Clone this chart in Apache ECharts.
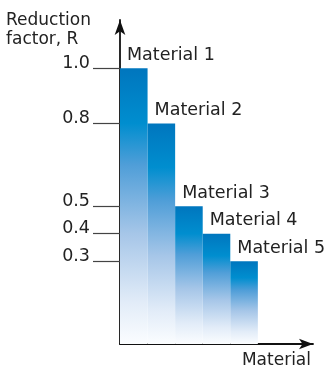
<!DOCTYPE html>
<html>
<head>
<meta charset="utf-8">
<script src="https://cdn.jsdelivr.net/npm/echarts@6/dist/echarts.min.js"></script>
<style>
  html, body { margin: 0; padding: 0; background: #fff; }
  #chart { width: 331px; height: 366px; }
</style>
</head>
<body>
<div id="chart"></div>
<script>
const materials = ['Material 1', 'Material 2', 'Material 3', 'Material 4', 'Material 5'];
const reduction = [1.0, 0.8, 0.5, 0.4, 0.3];
const yTicks = [0.3, 0.4, 0.5, 0.8, 1.0];

const FONT = '"DejaVu Sans", Verdana, sans-serif';

const chart = echarts.init(document.getElementById('chart'));

// blue at the top of each bar, fading to white at the base
const barFill = new echarts.graphic.LinearGradient(0, 0, 0, 1, [
  { offset: 0, color: '#0076be' },
  { offset: 0.2, color: '#008ecf' },
  { offset: 0.35, color: '#4f9ed8' },
  { offset: 0.6, color: '#a6c6e8' },
  { offset: 0.85, color: '#e2ecf8' },
  { offset: 1, color: '#fbfdff' },
]);

const option = {
  animation: false,
  title: {
    text: 'Reduction\nfactor, R',
    left: 6,
    top: 11,
    padding: 0,
    textStyle: {
      fontFamily: FONT,
      fontSize: 17,
      fontWeight: 'normal',
      color: '#222',
      lineHeight: 19,
    },
  },
  grid: {
    left: 120,
    right: 18,
    top: 20,
    bottom: 22,
    outerBoundsMode: 'none',
  },
  xAxis: {
    type: 'category',
    data: materials,
    max: 6,
    boundaryGap: true,
    name: 'Material',
    nameLocation: 'end',
    nameGap: -2,
    nameTextStyle: {
      fontFamily: FONT,
      fontSize: 17,
      color: '#222',
      align: 'right',
      verticalAlign: 'top',
      padding: [8, 0, 0, 0],
    },
    axisLine: {
      lineStyle: { color: '#111', width: 1.8 },
      symbol: ['none', 'arrow'],
      symbolSize: [8, 14],
    },
    axisTick: { show: false },
    axisLabel: { show: false },
  },
  yAxis: {
    type: 'value',
    min: 0,
    max: 1.175,
    axisLine: {
      show: true,
      lineStyle: { color: '#111', width: 1.8 },
      symbol: ['none', 'arrow'],
      symbolSize: [8, 15],
    },
    splitLine: { show: false },
    axisTick: {
      show: true,
      customValues: yTicks,
      length: 27,
      lineStyle: { color: '#444', width: 1.2 },
    },
    axisLabel: {
      customValues: yTicks,
      margin: 30,
      fontFamily: FONT,
      fontSize: 17.5,
      color: '#222',
      verticalAlign: 'bottom',
      lineHeight: 18,
      padding: [0, 0, -4, 0],
      formatter: (v) => v.toFixed(1),
    },
  },
  series: [{
    type: 'bar',
    data: reduction,
    barWidth: '100%',
    barCategoryGap: '0%',
    itemStyle: { color: barFill },
    label: {
      show: true,
      position: [7, -13],
      align: 'left',
      verticalAlign: 'middle',
      formatter: '{b}',
      fontFamily: FONT,
      fontSize: 17.5,
      color: '#222',
    },
  }],
};

chart.setOption(option);
</script>
</body>
</html>
